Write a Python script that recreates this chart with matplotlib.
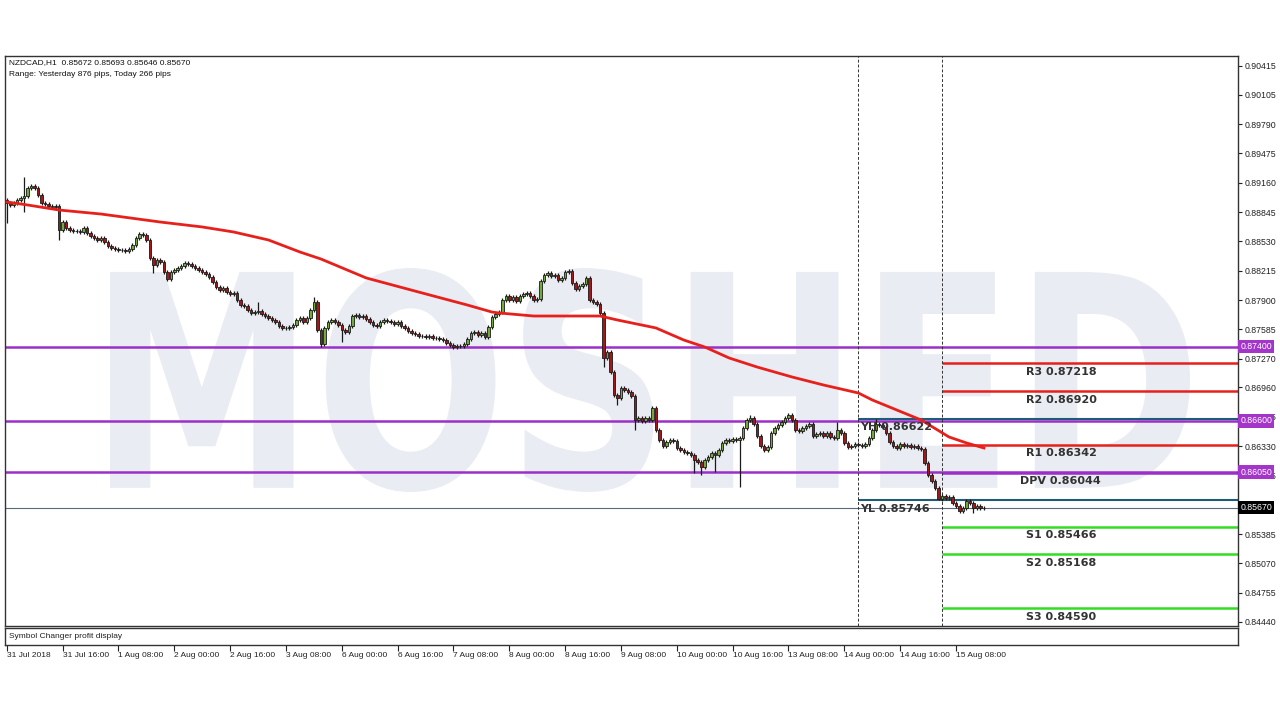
import matplotlib
matplotlib.use("Agg")
import matplotlib.pyplot as plt
from matplotlib.patches import PathPatch
from matplotlib.textpath import TextPath
from matplotlib.font_manager import FontProperties
from matplotlib.transforms import Affine2D, blended_transform_factory

# NZDCAD H1 closes, in pips (price * 1e4), bar 0 = 31 Jul 2018 00:00
closes = [
    8894.3, 8892.1, 8894.3, 8897.5, 8899.6, 8901.8, 8910.4, 8912.5, 8910.4, 8902.9,
    8894.3, 8893.2, 8891.0, 8890.0, 8891.0, 8865.2, 8873.8, 8867.4, 8865.2, 8864.2,
    8864.2, 8863.1, 8867.4, 8862.0, 8858.8, 8856.6, 8854.5, 8856.6, 8852.3, 8848.0,
    8845.9, 8844.8, 8843.7, 8843.7, 8842.7, 8844.8, 8849.1, 8856.6, 8860.9, 8859.9,
    8854.5, 8835.2, 8827.6, 8833.0, 8830.9, 8820.1, 8812.6, 8820.1, 8822.3, 8824.4,
    8826.6, 8829.8, 8828.7, 8826.6, 8824.4, 8822.3, 8820.1, 8818.0, 8814.7, 8809.4,
    8804.0, 8800.8, 8802.9, 8798.6, 8796.5, 8797.5, 8790.0, 8784.6, 8783.6, 8779.3,
    8776.1, 8777.1, 8778.2, 8775.0, 8772.8, 8770.7, 8768.5, 8766.4, 8762.1, 8759.9,
    8759.9, 8761.0, 8763.2, 8768.5, 8770.7, 8766.4, 8770.7, 8779.3, 8787.9, 8757.8,
    8742.7, 8759.9, 8766.4, 8768.5, 8766.4, 8763.2, 8757.8, 8755.6, 8762.1, 8772.8,
    8773.9, 8771.8, 8772.8, 8769.6, 8766.4, 8763.2, 8762.1, 8766.4, 8768.5, 8767.4,
    8766.4, 8764.2, 8766.4, 8762.1, 8759.9, 8756.7, 8754.6, 8753.5, 8751.3, 8751.3,
    8750.3, 8751.3, 8749.2, 8749.2, 8748.1, 8747.0, 8743.8, 8741.7, 8739.5, 8740.6,
    8740.6, 8742.7, 8748.1, 8754.6, 8755.6, 8752.4, 8754.6, 8750.3, 8761.0, 8771.8,
    8775.0, 8777.1, 8790.0, 8794.3, 8790.0, 8793.2, 8788.9, 8794.3, 8796.5, 8797.5,
    8794.3, 8790.0, 8791.1, 8810.4, 8816.9, 8819.0, 8815.8, 8816.9, 8811.5, 8813.7,
    8820.1, 8821.2, 8808.3, 8801.8, 8805.1, 8807.2, 8813.7, 8790.0, 8787.9, 8785.7,
    8776.1, 8727.7, 8734.1, 8712.6, 8687.9, 8684.7, 8695.5, 8693.3, 8691.2, 8686.9,
    8661.1, 8663.2, 8660.0, 8663.2, 8661.1, 8674.0, 8650.3, 8639.6, 8633.1, 8637.4,
    8639.6, 8638.5, 8631.0, 8628.8, 8626.7, 8625.6, 8623.5, 8618.1, 8615.9, 8610.6,
    8618.1, 8621.3, 8625.6, 8623.5, 8628.8, 8636.4, 8639.6, 8638.5, 8640.7, 8639.6,
    8641.7, 8652.5, 8661.1, 8663.2, 8656.8, 8643.9, 8633.1, 8628.8, 8632.1, 8647.1,
    8652.5, 8655.7, 8658.9, 8663.2, 8666.4, 8661.1, 8650.3, 8649.2, 8652.5, 8654.6,
    8656.8, 8643.9, 8646.0, 8647.1, 8643.9, 8647.1, 8642.8, 8641.7, 8650.3, 8647.1,
    8636.4, 8632.1, 8633.1, 8635.3, 8634.2, 8633.1, 8635.3, 8641.7, 8650.3, 8656.8,
    8655.7, 8653.5, 8647.1, 8637.4, 8633.1, 8631.0, 8635.3, 8633.1, 8634.2, 8632.1,
    8633.1, 8631.0, 8629.9, 8614.9, 8602.0, 8595.5, 8588.0, 8576.2, 8579.4, 8577.2,
    8578.3, 8571.9, 8568.7, 8563.3, 8566.5, 8574.0, 8571.9, 8566.5, 8568.7, 8566.5,
    8567.0,
]
first_open = 8897.5
# wicks that stick out further than the usual couple of pips
high_marks = {5: 8922.2, 72: 8787.9, 88: 8793.2, 213: 8666.4, 224: 8668.6,
              238: 8659.0, 249: 8662.2}
low_marks = {0: 8872.8, 5: 8884.6, 15: 8854.5, 42: 8819.0, 90: 8739.5, 96: 8744.9,
             171: 8718.0, 175: 8677.2, 180: 8650.3, 197: 8604.1, 199: 8601.9,
             203: 8605.2, 210: 8589.1, 267: 8574.6, 273: 8561.1, 277: 8561.1}
wick = 2.0

# moving average (red), read at some bars
ma_bars = [0, 6, 15, 27, 44, 56, 65, 75, 84, 90, 103, 118, 132, 139, 141, 151, 170,
           175, 186, 194, 200, 207, 215, 225, 234, 244, 248, 262, 270, 275, 280]
ma_vals = [8895.3, 8892.1, 8886.7, 8882.4, 8873.8, 8868.5, 8863.1, 8854.5, 8841.6,
           8834.1, 8813.7, 8798.6, 8784.6, 8777.1, 8776.1, 8772.8, 8772.8, 8768.5,
           8760.0, 8747.0, 8739.5, 8727.7, 8718.0, 8707.3, 8698.7, 8690.1, 8682.6,
           8661.1, 8642.8, 8636.4, 8631.0]

purple_levels = [0.87400, 0.86600, 0.86050]
pivot_names = ["R3", "R2", "R1", "DPV", "S1", "S2", "S3"]
pivot_vals = [0.87218, 0.86920, 0.86342, 0.86044, 0.85466, 0.85168, 0.84590]
yh, yl, bid = 0.86622, 0.85746, 0.85670
day_seps = [244, 268]

x_ticks = list(range(0, 273, 16))
x_labels = ["31 Jul 2018", "31 Jul 16:00", "1 Aug 08:00", "2 Aug 00:00", "2 Aug 16:00",
            "3 Aug 08:00", "6 Aug 00:00", "6 Aug 16:00", "7 Aug 08:00", "8 Aug 00:00",
            "8 Aug 16:00", "9 Aug 08:00", "10 Aug 00:00", "10 Aug 16:00", "13 Aug 08:00",
            "14 Aug 00:00", "14 Aug 16:00", "15 Aug 08:00"]
y_ticks = [0.90415, 0.90105, 0.89790, 0.89475, 0.89160, 0.88845, 0.88530, 0.88215,
           0.87900, 0.87585, 0.87270, 0.86960, 0.86645, 0.86330, 0.86015, 0.85700,
           0.85385, 0.85070, 0.84755, 0.84440]
# 0.85700 sits fully under the bid box in the reference
y_labels = ["0.90415", "0.90105", "0.89790", "0.89475", "0.89160", "0.88845", "0.88530",
            "0.88215", "0.87900", "0.87585", "0.87270", "0.86960", "0.86645", "0.86330",
            "0.86015", "", "0.85385", "0.85070", "0.84755", "0.84440"]

plt.rcParams["font.family"] = ["Liberation Sans", "DejaVu Sans"]
fig = plt.figure(figsize=(12.8, 7.2), dpi=100)
ax = fig.add_axes([5 / 1280, 94 / 720, 1233 / 1280, 570 / 720])
sub = fig.add_axes([5 / 1280, 75 / 720, 1233 / 1280, 17 / 720], sharex=ax)

# watermark
tp = TextPath((0, 0), "MOSHED", size=1, prop=FontProperties(family="DejaVu Sans", weight="bold"))
ext = tp.get_extents()
wm_tr = (Affine2D().translate(-ext.x0, -ext.y0)
         .scale(10.8 / ext.width, 2.24 / ext.height).translate(1.10, 2.28)
         + fig.dpi_scale_trans)
ax.add_patch(PathPatch(tp, transform=wm_tr, facecolor="#eaecf3", edgecolor="none", zorder=0))

# candles
opens = [first_open] + closes[:-1]
xs = list(range(len(closes)))
highs = [high_marks.get(i, max(o, c) + wick) / 1e4 for i, (o, c) in enumerate(zip(opens, closes))]
lows = [low_marks.get(i, min(o, c) - wick) / 1e4 for i, (o, c) in enumerate(zip(opens, closes))]
ax.vlines(xs, lows, highs, color="#1a1a1a", linewidth=0.9, zorder=3)
body_bot = [min(o, c) / 1e4 for o, c in zip(opens, closes)]
body_h = [max(abs(c - o), 0.15) / 1e4 for o, c in zip(opens, closes)]
cols = ["#72a83c" if c >= o else "#a01818" for o, c in zip(opens, closes)]
ax.bar(xs, body_h, bottom=body_bot, width=0.72, color=cols, edgecolor="#1a1a1a",
       linewidth=0.6, zorder=4)

ax.plot(ma_bars, [v / 1e4 for v in ma_vals], color="#e8201c", linewidth=2, zorder=5)

# horizontal levels
for lv in purple_levels:
    ax.axhline(lv, color="#9b30c8", linewidth=1.8, zorder=2)
ax.axhline(bid, color="#5a6a78", linewidth=0.8, zorder=2)
ax.hlines([yh, yl], day_seps[0], 360, color="#1f5a78", linewidth=1.5, zorder=2)
for name, val in zip(pivot_names, pivot_vals):
    col = "#e8201c" if name.startswith("R") else ("#9b30c8" if name == "DPV" else "#33dd22")
    ax.hlines(val, day_seps[1], 360, color=col, linewidth=1.8, zorder=2)
    ax.annotate(f"{name} {val:.5f}", (290.3 if name == "DPV" else 292, val),
                xytext=(0, -2.5), textcoords="offset points", va="top", ha="left",
                fontsize=8, fontweight="bold", color="#333333", zorder=6,
                family="DejaVu Sans")
for name, val in [("YH", yh), ("YL", yl)]:
    ax.annotate(f"{name} {val:.5f}", (244.5, val), xytext=(0, -2.5),
                textcoords="offset points", va="top", ha="left", fontsize=8,
                fontweight="bold", color="#333333", zorder=6, family="DejaVu Sans")
for d in day_seps:
    ax.axvline(d, color="#333333", linewidth=0.7, linestyle=(0, (3, 2)), zorder=2)

ax.set_xlim(-0.5, 352.8)
ax.set_ylim(0.84397, 0.90522)

ax.yaxis.tick_right()
ax.set_yticks(y_ticks)
ax.set_yticklabels(y_labels)
ax.tick_params(axis="y", direction="out", length=3, labelsize=6.3, pad=2,
               colors="#222222")
ax.tick_params(axis="x", bottom=False, labelbottom=False)

# axis price boxes
btr = blended_transform_factory(ax.transAxes, ax.transData)
for lv in purple_levels:
    ax.text(1.0018, lv, f"{lv:.5f}", transform=btr, va="center", ha="left", fontsize=6.3,
            color="white", clip_on=False, zorder=10,
            bbox=dict(boxstyle="square,pad=0.25", facecolor="#a335c8", edgecolor="none"))
ax.text(1.0018, bid, f"{bid:.5f}", transform=btr, va="center", ha="left", fontsize=6.3,
        color="white", clip_on=False, zorder=10,
        bbox=dict(boxstyle="square,pad=0.25", facecolor="#000000", edgecolor="none"))

for a in (ax, sub):
    for s in a.spines.values():
        s.set_color("#333333")
        s.set_linewidth(1.0)

sub.set_yticks([])
sub.text(0.003, 0.5, "Symbol Changer profit display", transform=sub.transAxes,
         va="center", ha="left", fontsize=6, color="#222222")
sub.set_xticks(x_ticks)
sub.set_xticklabels(x_labels)
sub.tick_params(axis="x", direction="out", length=4, labelsize=6, pad=1,
                colors="#222222")
for lbl in sub.get_xticklabels():
    lbl.set_ha("left")

fig.text(9 / 1280, 1 - 63 / 720, "NZDCAD,H1  0.85672 0.85693 0.85646 0.85670",
         fontsize=6, va="center", ha="left", color="#111111")
fig.text(9 / 1280, 1 - 74 / 720, "Range: Yesterday 876 pips, Today 266 pips",
         fontsize=6, va="center", ha="left", color="#111111")

fig.savefig("out.png", dpi=100, facecolor="white")
